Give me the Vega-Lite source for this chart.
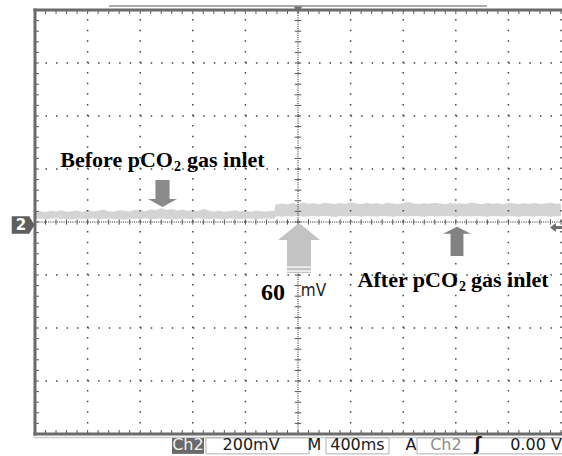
{
  "$schema": "https://vega.github.io/schema/vega-lite/v6.json",
  "width": 526,
  "height": 424,
  "autosize": {"type": "none"},
  "padding": {"left": 35, "top": 10, "right": 1, "bottom": 22},
  "background": "white",
  "config": {"view": {"stroke": null}, "axis": {"disable": true}},
  "data": {"values": [{"one": 1}]},
  "datasets": {
    "trace": [
      {"t":0.00,"lo":12,"hi":39},{"t":0.04,"lo":13,"hi":41},{"t":0.08,"lo":10,"hi":38},{"t":0.12,"lo":12,"hi":42},
      {"t":0.16,"lo":14,"hi":40},{"t":0.20,"lo":11,"hi":44},{"t":0.24,"lo":12,"hi":39},{"t":0.28,"lo":9,"hi":41},
      {"t":0.32,"lo":13,"hi":43},{"t":0.36,"lo":12,"hi":38},{"t":0.40,"lo":11,"hi":45},{"t":0.44,"lo":14,"hi":40},
      {"t":0.48,"lo":10,"hi":42},{"t":0.52,"lo":12,"hi":47},{"t":0.56,"lo":13,"hi":41},{"t":0.60,"lo":11,"hi":39},
      {"t":0.64,"lo":12,"hi":44},{"t":0.68,"lo":8,"hi":42},{"t":0.72,"lo":13,"hi":40},{"t":0.76,"lo":12,"hi":46},
      {"t":0.80,"lo":11,"hi":43},{"t":0.84,"lo":14,"hi":41},{"t":0.88,"lo":10,"hi":48},{"t":0.92,"lo":12,"hi":44},
      {"t":0.96,"lo":13,"hi":52},{"t":1.00,"lo":11,"hi":45},{"t":1.04,"lo":12,"hi":49},{"t":1.08,"lo":9,"hi":43},
      {"t":1.12,"lo":13,"hi":47},{"t":1.16,"lo":12,"hi":42},{"t":1.20,"lo":11,"hi":44},{"t":1.24,"lo":14,"hi":41},
      {"t":1.28,"lo":12,"hi":50},{"t":1.32,"lo":10,"hi":43},{"t":1.36,"lo":13,"hi":40},{"t":1.40,"lo":12,"hi":42},
      {"t":1.44,"lo":11,"hi":39},{"t":1.48,"lo":13,"hi":41},{"t":1.52,"lo":12,"hi":44},{"t":1.56,"lo":10,"hi":40},
      {"t":1.60,"lo":12,"hi":42},{"t":1.64,"lo":13,"hi":39},{"t":1.68,"lo":11,"hi":43},{"t":1.72,"lo":12,"hi":41},
      {"t":1.76,"lo":14,"hi":40},{"t":1.80,"lo":12,"hi":42},{"t":1.82,"lo":12,"hi":42},{"t":1.83,"lo":20,"hi":68},
      {"t":1.84,"lo":22,"hi":66},{"t":1.88,"lo":20,"hi":70},{"t":1.92,"lo":23,"hi":67},{"t":1.96,"lo":21,"hi":72},
      {"t":2.00,"lo":24,"hi":68},{"t":2.04,"lo":20,"hi":74},{"t":2.08,"lo":22,"hi":69},{"t":2.12,"lo":23,"hi":71},
      {"t":2.16,"lo":21,"hi":67},{"t":2.20,"lo":24,"hi":73},{"t":2.24,"lo":22,"hi":70},{"t":2.28,"lo":19,"hi":68},
      {"t":2.32,"lo":23,"hi":72},{"t":2.36,"lo":21,"hi":69},{"t":2.40,"lo":22,"hi":75},{"t":2.44,"lo":24,"hi":70},
      {"t":2.48,"lo":20,"hi":68},{"t":2.52,"lo":23,"hi":72},{"t":2.56,"lo":22,"hi":69},{"t":2.60,"lo":21,"hi":71},
      {"t":2.64,"lo":24,"hi":67},{"t":2.68,"lo":22,"hi":73},{"t":2.72,"lo":20,"hi":70},{"t":2.76,"lo":23,"hi":68},
      {"t":2.80,"lo":22,"hi":72},{"t":2.84,"lo":21,"hi":76},{"t":2.88,"lo":24,"hi":70},{"t":2.92,"lo":22,"hi":68},
      {"t":2.96,"lo":20,"hi":71},{"t":3.00,"lo":23,"hi":69},{"t":3.04,"lo":22,"hi":73},{"t":3.08,"lo":21,"hi":70},
      {"t":3.12,"lo":24,"hi":67},{"t":3.16,"lo":22,"hi":72},{"t":3.20,"lo":20,"hi":69},{"t":3.24,"lo":23,"hi":71},
      {"t":3.28,"lo":22,"hi":68},{"t":3.32,"lo":21,"hi":74},{"t":3.36,"lo":24,"hi":70},{"t":3.40,"lo":22,"hi":68},
      {"t":3.44,"lo":20,"hi":72},{"t":3.48,"lo":23,"hi":69},{"t":3.52,"lo":22,"hi":71},{"t":3.56,"lo":21,"hi":67},
      {"t":3.60,"lo":24,"hi":73},{"t":3.64,"lo":22,"hi":70},{"t":3.68,"lo":20,"hi":68},{"t":3.72,"lo":23,"hi":71},
      {"t":3.76,"lo":22,"hi":69},{"t":3.80,"lo":21,"hi":72},{"t":3.84,"lo":24,"hi":68},{"t":3.88,"lo":22,"hi":70},
      {"t":3.92,"lo":20,"hi":73},{"t":3.96,"lo":23,"hi":69},{"t":4.00,"lo":22,"hi":70}
    ],
    "majx": [{"t":0.4},{"t":0.8},{"t":1.2},{"t":1.6},{"t":2.4},{"t":2.8},{"t":3.2},{"t":3.6},{"t":4.0}],
    "majy": [{"v":-600},{"v":-400},{"v":-200},{"v":200},{"v":400},{"v":600}],
    "minx": [
      {"t":0},{"t":0.08},{"t":0.16},{"t":0.24},{"t":0.32},{"t":0.4},{"t":0.48},{"t":0.56},{"t":0.64},{"t":0.72},
      {"t":0.8},{"t":0.88},{"t":0.96},{"t":1.04},{"t":1.12},{"t":1.2},{"t":1.28},{"t":1.36},{"t":1.44},{"t":1.52},
      {"t":1.6},{"t":1.68},{"t":1.76},{"t":1.84},{"t":1.92},{"t":2.0},{"t":2.08},{"t":2.16},{"t":2.24},{"t":2.32},
      {"t":2.4},{"t":2.48},{"t":2.56},{"t":2.64},{"t":2.72},{"t":2.8},{"t":2.88},{"t":2.96},{"t":3.04},{"t":3.12},
      {"t":3.2},{"t":3.28},{"t":3.36},{"t":3.44},{"t":3.52},{"t":3.6},{"t":3.68},{"t":3.76},{"t":3.84},{"t":3.92},{"t":4.0}
    ],
    "miny": [
      {"v":-800},{"v":-760},{"v":-720},{"v":-680},{"v":-640},{"v":-600},{"v":-560},{"v":-520},{"v":-480},{"v":-440},
      {"v":-400},{"v":-360},{"v":-320},{"v":-280},{"v":-240},{"v":-200},{"v":-160},{"v":-120},{"v":-80},{"v":-40},
      {"v":0},{"v":40},{"v":80},{"v":120},{"v":160},{"v":200},{"v":240},{"v":280},{"v":320},{"v":360},
      {"v":400},{"v":440},{"v":480},{"v":520},{"v":560},{"v":600},{"v":640},{"v":680},{"v":720},{"v":760},{"v":800}
    ],
    "notesMain": [{"label":"Before pCO","t":1.049,"v":207.6},{"label":"After pCO","t":3.217,"v":-245}],
    "notesSub": [{"label":"2","t":1.057,"v":192.5},{"label":"2","t":3.224,"v":-260}],
    "notesTail": [{"label":"gas inlet","t":1.156,"v":207.6},{"label":"gas inlet","t":3.316,"v":-245}],
    "footerText": [
      {"label":"200mV","t":1.643,"v":-860},
      {"label":"M","t":2.125,"v":-860},
      {"label":"400ms","t":2.452,"v":-860},
      {"label":"A","t":2.859,"v":-860},
      {"label":"0.00 V","t":3.81,"v":-860}
    ],
    "footerBoxes": [
      {"t1":1.300,"t2":2.084,"v1":-815,"v2":-875},
      {"t1":2.213,"t2":2.692,"v1":-815,"v2":-875},
      {"t1":2.905,"t2":4.05,"v1":-815,"v2":-875}
    ]
  },
  "layer": [
    {
      "data": {"name": "trace"},
      "mark": {"type": "area", "color": "#d4d4d4", "opacity": 1},
      "encoding": {
        "x": {"field": "t", "type": "quantitative", "scale": {"domain": [0, 4], "nice": false, "zero": false}, "axis": null},
        "y": {"field": "hi", "type": "quantitative", "scale": {"domain": [-800, 800], "nice": false, "zero": false}, "axis": null},
        "y2": {"field": "lo"}
      }
    },
    {
      "data": {"name": "majx"},
      "mark": {"type": "rule", "color": "#444", "strokeWidth": 1.5, "strokeDash": [1.5, 9.1]},
      "encoding": {"x": {"field": "t", "type": "quantitative"}, "y": {"datum": -800}, "y2": {"datum": 800}}
    },
    {
      "data": {"name": "majy"},
      "mark": {"type": "rule", "color": "#444", "strokeWidth": 1.5, "strokeDash": [1.5, 9.02]},
      "encoding": {"y": {"field": "v", "type": "quantitative"}, "x": {"datum": 0}, "x2": {"datum": 4}}
    },
    {
      "mark": {"type": "rule", "color": "#222", "strokeWidth": 1, "strokeDash": [1, 1.2]},
      "encoding": {"x": {"datum": 2}, "y": {"datum": -800}, "y2": {"datum": 800}}
    },
    {
      "mark": {"type": "rule", "color": "#222", "strokeWidth": 1, "strokeDash": [1, 1.2]},
      "encoding": {"y": {"datum": 0}, "x": {"datum": 0}, "x2": {"datum": 4}}
    },
    {
      "data": {"name": "minx"},
      "mark": {"type": "rule", "color": "#555", "strokeWidth": 1},
      "encoding": {"x": {"field": "t", "type": "quantitative"}, "y": {"datum": -10}, "y2": {"datum": 10}}
    },
    {
      "data": {"name": "miny"},
      "mark": {"type": "rule", "color": "#555", "strokeWidth": 1},
      "encoding": {"y": {"field": "v", "type": "quantitative"}, "x": {"datum": 1.975}, "x2": {"datum": 2.025}}
    },
    {
      "data": {"name": "minx"},
      "mark": {"type": "rule", "color": "#555", "strokeWidth": 1},
      "encoding": {"x": {"field": "t", "type": "quantitative"}, "y": {"datum": -800}, "y2": {"datum": -785}}
    },
    {
      "data": {"name": "minx"},
      "mark": {"type": "rule", "color": "#555", "strokeWidth": 1},
      "encoding": {"x": {"field": "t", "type": "quantitative"}, "y": {"datum": 800}, "y2": {"datum": 785}}
    },
    {
      "data": {"name": "miny"},
      "mark": {"type": "rule", "color": "#555", "strokeWidth": 1},
      "encoding": {"y": {"field": "v", "type": "quantitative"}, "x": {"datum": 0}, "x2": {"datum": 0.03}}
    },
    {
      "mark": {"type": "rule", "color": "#ababab", "strokeWidth": 2},
      "encoding": {"x": {"datum": 0.563}, "x2": {"datum": 3.437}, "y": {"datum": 815}}
    },
    {
      "mark": {"type": "rule", "color": "#6b6b6b", "strokeWidth": 3},
      "encoding": {"x": {"datum": -0.012}, "x2": {"datum": 4.02}, "y": {"datum": 800}}
    },
    {
      "mark": {"type": "rule", "color": "#6b6b6b", "strokeWidth": 3},
      "encoding": {"x": {"datum": -0.012}, "x2": {"datum": 4.02}, "y": {"datum": -800}}
    },
    {
      "mark": {"type": "rule", "color": "#6b6b6b", "strokeWidth": 3},
      "encoding": {"x": {"datum": 0}, "y": {"datum": -806}, "y2": {"datum": 806}}
    },
    {
      "mark": {"type": "rule", "color": "#cdcdcd", "strokeWidth": 1.5},
      "encoding": {"x": {"datum": -0.012}, "x2": {"datum": 4.02}, "y": {"datum": -813}}
    },
    {
      "mark": {"type": "point", "shape": "triangle-down", "filled": true, "size": 70, "color": "#707070", "opacity": 1},
      "encoding": {"x": {"datum": 2}, "y": {"datum": 800}}
    },
    {
      "mark": {"type": "point", "filled": true, "opacity": 1, "color": "#5e5e5e", "size": 576,
               "shape": "M-0.95,-0.73 L0.5,-0.73 L0.95,0 L0.5,0.73 L-0.95,0.73 Z"},
      "encoding": {"x": {"datum": -0.09}, "y": {"datum": -11.3}}
    },
    {
      "mark": {"type": "text", "text": "2", "font": "DejaVu Sans", "fontWeight": "bold", "fontSize": 15, "color": "#ffffff", "align": "center", "baseline": "middle"},
      "encoding": {"x": {"datum": -0.106}, "y": {"datum": -11.3}}
    },
    {
      "mark": {"type": "point", "filled": true, "opacity": 1, "color": "#6e6e6e", "size": 144,
               "shape": "M-1,0 L0,-0.75 L0,-0.25 L1,-0.25 L1,0.25 L0,0.25 L0,0.75 Z"},
      "encoding": {"x": {"datum": 3.962}, "y": {"datum": -20.8}}
    },
    {
      "mark": {"type": "point", "filled": true, "opacity": 1, "color": "#8a8a8a", "size": 900,
               "shape": "M-0.47,-0.9 L0.47,-0.9 L0.47,0.37 L0.97,0.37 L0,0.9 L-0.97,0.37 L-0.47,0.37 Z"},
      "encoding": {"x": {"datum": 0.9696}, "y": {"datum": 107.6}}
    },
    {
      "mark": {"type": "point", "filled": true, "opacity": 1, "color": "#828282", "size": 900,
               "shape": "M0,-0.98 L0.93,-0.5 L0.43,-0.5 L0.43,0.98 L-0.43,0.98 L-0.43,-0.5 L-0.93,-0.5 Z"},
      "encoding": {"x": {"datum": 3.209}, "y": {"datum": -73}}
    },
    {
      "mark": {"type": "point", "filled": true, "opacity": 1, "color": "#c3c3c3", "size": 2500,
               "shape": "M0,-1 L0.84,-0.32 L0.48,-0.32 L0.48,1 L-0.48,1 L-0.48,-0.32 L-0.84,-0.32 Z"},
      "encoding": {"x": {"datum": 2.0076}, "y": {"datum": -98.1}}
    },
    {
      "mark": {"type": "rule", "color": "#ffffff", "strokeWidth": 1.3},
      "encoding": {"x": {"datum": 1.916}, "x2": {"datum": 2.099}, "y": {"datum": -170}}
    },
    {
      "mark": {"type": "rule", "color": "#ffffff", "strokeWidth": 1.3},
      "encoding": {"x": {"datum": 1.916}, "x2": {"datum": 2.099}, "y": {"datum": -185}}
    },
    {
      "data": {"name": "notesMain"},
      "mark": {"type": "text", "font": "Liberation Serif", "fontWeight": "bold", "fontSize": 22, "align": "right", "baseline": "alphabetic", "color": "#000000"},
      "encoding": {"x": {"field": "t", "type": "quantitative"}, "y": {"field": "v", "type": "quantitative"}, "text": {"field": "label"}}
    },
    {
      "data": {"name": "notesSub"},
      "mark": {"type": "text", "font": "Liberation Serif", "fontWeight": "bold", "fontSize": 14, "align": "left", "baseline": "alphabetic", "color": "#000000"},
      "encoding": {"x": {"field": "t", "type": "quantitative"}, "y": {"field": "v", "type": "quantitative"}, "text": {"field": "label"}}
    },
    {
      "data": {"name": "notesTail"},
      "mark": {"type": "text", "font": "Liberation Serif", "fontWeight": "bold", "fontSize": 22, "align": "left", "baseline": "alphabetic", "color": "#000000"},
      "encoding": {"x": {"field": "t", "type": "quantitative"}, "y": {"field": "v", "type": "quantitative"}, "text": {"field": "label"}}
    },
    {
      "mark": {"type": "text", "text": "60", "font": "Liberation Serif", "fontWeight": "bold", "fontSize": 24, "align": "center", "baseline": "alphabetic", "color": "#000000"},
      "encoding": {"x": {"datum": 1.81}, "y": {"datum": -294}}
    },
    {
      "mark": {"type": "text", "text": "mV", "font": "Liberation Sans Narrow, DejaVu Sans Condensed, sans-serif", "fontSize": 17, "align": "center", "baseline": "alphabetic", "color": "#222222"},
      "encoding": {"x": {"datum": 2.118}, "y": {"datum": -281}}
    },
    {
      "mark": {"type": "rect", "color": "#6a6a6a"},
      "encoding": {"x": {"datum": 1.042}, "x2": {"datum": 1.285}, "y": {"datum": -815}, "y2": {"datum": -875}}
    },
    {
      "data": {"name": "footerBoxes"},
      "mark": {"type": "rect", "fill": "#ffffff", "stroke": "#b0b0b0", "strokeWidth": 1},
      "encoding": {"x": {"field": "t1", "type": "quantitative"}, "x2": {"field": "t2"}, "y": {"field": "v1", "type": "quantitative"}, "y2": {"field": "v2"}}
    },
    {
      "mark": {"type": "text", "text": "Ch2", "font": "DejaVu Sans", "fontSize": 16, "align": "center", "baseline": "alphabetic", "color": "#f2f2f2"},
      "encoding": {"x": {"datum": 1.163}, "y": {"datum": -860}}
    },
    {
      "data": {"name": "footerText"},
      "mark": {"type": "text", "font": "DejaVu Sans", "fontSize": 16, "align": "center", "baseline": "alphabetic", "color": "#1a1a1a"},
      "encoding": {"x": {"field": "t", "type": "quantitative"}, "y": {"field": "v", "type": "quantitative"}, "text": {"field": "label"}}
    },
    {
      "mark": {"type": "text", "text": "Ch2", "font": "DejaVu Sans", "fontSize": 16, "align": "center", "baseline": "alphabetic", "color": "#8c8c8c"},
      "encoding": {"x": {"datum": 3.125}, "y": {"datum": -860}}
    },
    {
      "mark": {"type": "text", "text": "ʃ", "font": "DejaVu Sans", "fontWeight": "bold", "fontSize": 17, "align": "center", "baseline": "alphabetic", "color": "#1a1a1a"},
      "encoding": {"x": {"datum": 3.369}, "y": {"datum": -860}}
    }
  ]
}
